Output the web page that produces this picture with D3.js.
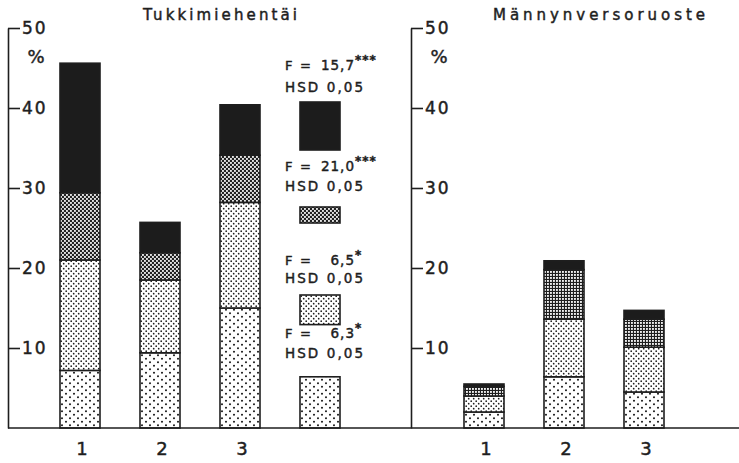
<!DOCTYPE html>
<html>
<head>
<meta charset="utf-8">
<script src="https://cdn.jsdelivr.net/npm/d3@7"></script>
<style>
  html, body { margin: 0; padding: 0; background: #fff; }
  svg { display: block; }
  text { font-family: "DejaVu Sans", sans-serif; fill: #1e1e1e; stroke: #1e1e1e; stroke-width: 0.45px; }
</style>
</head>
<body>
<svg id="chart" width="739" height="463"></svg>
<script>
// Groups on the x axis
const categories = ["1", "2", "3"];
// Stacked components, bottom to top
const layerKeys = ["coarse", "light", "dense", "black"];

// Tukkimiehentäi, % per component
const tukkiCoarse = [7.2, 9.4, 15.0];
const tukkiLight  = [13.8, 9.1, 13.2];
const tukkiDense  = [8.4, 3.4, 5.9];
const tukkiBlack  = [16.2, 3.8, 6.3];

// Männynversoruoste, % per component
const mannyCoarse = [2.0, 6.4, 4.5];
const mannyLight  = [2.0, 7.2, 5.6];
const mannyDense  = [1.2, 6.2, 3.5];
const mannyBlack  = [0.3, 1.1, 1.1];

// Variance analysis per component (top to bottom in the key column)
const fValues   = ["15,7", "21,0", "6,5", "6,3"];
const fStars    = ["***", "***", "*", "*"];
const hsdLabel  = "HSD 0,05";
const hsdValues = [6.0, 2.0, 3.7, 6.4];
const hsdKeys   = ["black", "dense", "light", "coarse"];

const yTicks = [10, 20, 30, 40, 50];

const svg = d3.select("#chart");
const ink = "#1e1e1e";

// ---- fill patterns ----
const defs = svg.append("defs");
function dotPattern(id, w, h, r, pts) {
  const p = defs.append("pattern").attr("id", id).attr("patternUnits", "userSpaceOnUse")
    .attr("width", w).attr("height", h);
  p.append("rect").attr("width", w).attr("height", h).attr("fill", "#fff");
  pts.forEach(([cx, cy]) => p.append("circle").attr("cx", cx).attr("cy", cy).attr("r", r).attr("fill", ink));
}
dotPattern("pCoarse", 8, 7, 1.05, [[2, 1.75], [6, 5.25]]);
dotPattern("pLight", 5, 5, 0.85, [[1.2, 1.2], [3.7, 3.7]]);
// checkerboard
{
  const p = defs.append("pattern").attr("id", "pChecker").attr("patternUnits", "userSpaceOnUse")
    .attr("width", 4).attr("height", 4);
  p.append("rect").attr("width", 4).attr("height", 4).attr("fill", "#222");
  p.append("rect").attr("width", 1.9).attr("height", 1.9).attr("fill", "#e4e4e4");
  p.append("rect").attr("x", 2).attr("y", 2).attr("width", 1.9).attr("height", 1.9).attr("fill", "#e4e4e4");
}
// square grid
{
  const p = defs.append("pattern").attr("id", "pGrid").attr("patternUnits", "userSpaceOnUse")
    .attr("width", 3).attr("height", 3);
  p.append("rect").attr("width", 3).attr("height", 3).attr("fill", "#1e1e1e");
  p.append("rect").attr("x", 1).attr("y", 1).attr("width", 1.9).attr("height", 1.9).attr("fill", "#eeeeee");
}

const y = d3.scaleLinear().domain([0, 50]).range([428, 28]);

function drawAxis(x0) {
  const g = svg.append("g").attr("transform", `translate(${x0},0)`)
    .call(d3.axisRight(y).tickValues(yTicks).tickSize(12).tickSizeOuter(0).tickPadding(2));
  g.select(".domain").attr("stroke", ink).attr("stroke-width", 1.6);
  g.selectAll(".tick line").attr("stroke", ink).attr("stroke-width", 1.6);
  g.selectAll(".tick text").attr("font-size", 17).attr("letter-spacing", "2px")
    .attr("fill", ink).attr("font-family", "DejaVu Sans, sans-serif");
  svg.append("text").attr("x", x0 + 28).attr("y", 63).attr("text-anchor", "middle")
    .attr("font-size", 18).text("%");
}

function drawPanel(cfg) {
  const x = d3.scaleBand().domain(cfg.domain).range(cfg.range).paddingInner(0.5).paddingOuter(0.25);
  const rows = categories.map((c, i) => ({
    cat: c,
    coarse: cfg.values[0][i], light: cfg.values[1][i], dense: cfg.values[2][i], black: cfg.values[3][i]
  }));
  const series = d3.stack().keys(layerKeys)(rows);
  const fills = { coarse: "url(#pCoarse)", light: "url(#pLight)", dense: cfg.denseFill, black: "#1c1c1c" };

  const g = svg.append("g");
  series.forEach(s => {
    g.selectAll(null).data(s).join("rect")
      .attr("x", d => x(d.data.cat))
      .attr("y", d => y(d[1]))
      .attr("width", x.bandwidth())
      .attr("height", d => y(d[0]) - y(d[1]))
      .attr("fill", fills[s.key])
      .attr("stroke", ink).attr("stroke-width", 1.6);
  });

  // group numbers
  g.selectAll(null).data(categories).join("text")
    .attr("x", d => x(d) + x.bandwidth() / 2 + 2)
    .attr("y", 455)
    .attr("text-anchor", "middle")
    .attr("font-size", 18)
    .text(d => d);

  svg.append("text").attr("x", cfg.titleX).attr("y", 20).attr("text-anchor", "middle")
    .attr("font-size", 15).attr("textLength", cfg.titleLen).attr("lengthAdjust", "spacing")
    .text(cfg.title);
  return x;
}

drawAxis(8);
drawAxis(411);

const xLeft = drawPanel({
  domain: [...categories, "HSD"], range: [40, 360],
  values: [tukkiCoarse, tukkiLight, tukkiDense, tukkiBlack],
  denseFill: "url(#pChecker)",
  title: "Tukkimiehentäi", titleX: 220, titleLen: 154
});
drawPanel({
  domain: categories, range: [444, 684],
  values: [mannyCoarse, mannyLight, mannyDense, mannyBlack],
  denseFill: "url(#pGrid)",
  title: "Männynversoruoste", titleX: 599, titleLen: 212
});

// ---- HSD key column ----
const keyFill = { black: "#1c1c1c", dense: "url(#pChecker)", light: "url(#pLight)", coarse: "url(#pCoarse)" };
const keyLayout = [
  { fY: 70, hY: 92, boxTop: 102 },
  { fY: 171, hY: 191, boxTop: 207 },
  { fY: 265, hY: 283, boxTop: 295 },
  { fY: 338, hY: 358, boxTop: null } // last box stands on the baseline
];
const kx = xLeft("HSD");
const kw = xLeft.bandwidth();
keyLayout.forEach((L, i) => {
  const h = y(0) - y(hsdValues[i]);
  const top = L.boxTop === null ? y(hsdValues[i]) : L.boxTop;
  svg.append("rect").attr("x", kx).attr("y", top).attr("width", kw).attr("height", h)
    .attr("fill", keyFill[hsdKeys[i]]).attr("stroke", ink).attr("stroke-width", 1.6);

  svg.append("text").attr("x", 285).attr("y", L.fY).attr("font-size", 13).text("F");
  svg.append("text").attr("x", 300).attr("y", L.fY).attr("font-size", 13).text("=");
  svg.append("text").attr("x", 355).attr("y", L.fY).attr("font-size", 13.5)
    .attr("text-anchor", "end").attr("letter-spacing", "1px").text(fValues[i]);
  svg.append("text").attr("x", 355).attr("y", L.fY - 6).attr("font-size", 12)
    .attr("letter-spacing", "1px").attr("font-weight", "bold").text(fStars[i]);
  svg.append("text").attr("x", 285).attr("y", L.hY).attr("font-size", 13.5)
    .attr("textLength", 78).attr("lengthAdjust", "spacing").text(hsdLabel);
});

// common baseline
svg.append("line").attr("x1", 8).attr("x2", 739).attr("y1", y(0)).attr("y2", y(0))
  .attr("stroke", ink).attr("stroke-width", 1.6);
</script>
</body>
</html>
